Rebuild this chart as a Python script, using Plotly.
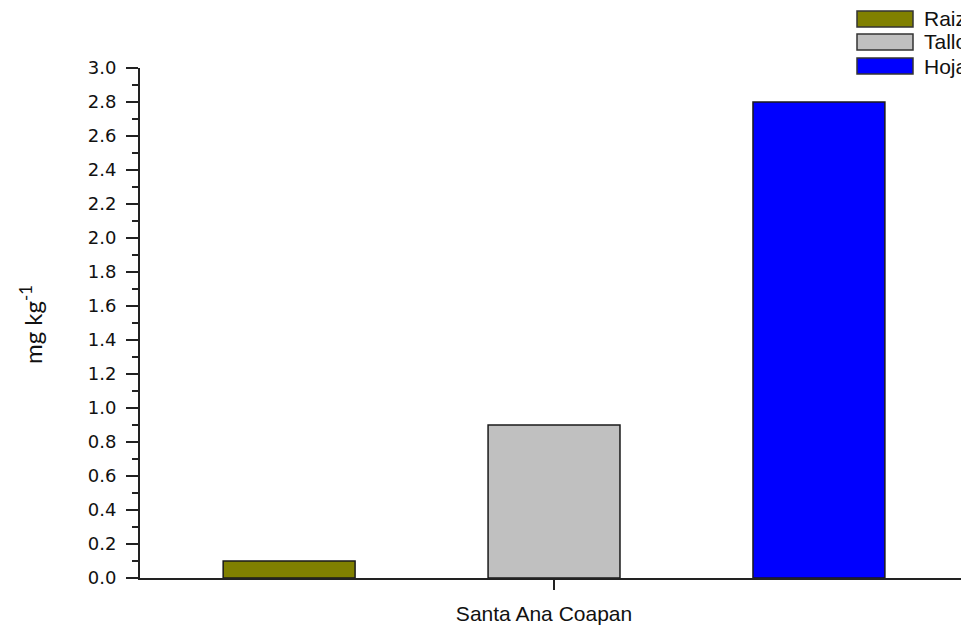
import plotly.graph_objects as go

site = ["Santa Ana Coapan"]
series_names = ["Raiz", "Tallo", "Hojas"]
series_values = [[0.1], [0.9], [2.8]]
series_colors = ["#808000", "#C0C0C0", "#0000FF"]
y_ticks = [0.0, 0.2, 0.4, 0.6, 0.8, 1.0, 1.2, 1.4, 1.6, 1.8, 2.0, 2.2, 2.4, 2.6, 2.8, 3.0]

W, H = 961, 627
L, T, B = 140, 68, 627 - 578
PW, PH = W - L, H - T - B

def px_x(x):  # window px -> paper x
    return (x - L) / PW

def px_y(y):  # window px -> paper y
    return (H - B - y) / PH

fig = go.Figure()
for name, vals, col in zip(series_names, series_values, series_colors):
    fig.add_trace(go.Bar(
        x=site, y=vals, name=name,
        marker=dict(color=col, line=dict(color="#1a1a1a", width=1.5)),
        showlegend=False,
    ))

# manual legend (clipped at the right edge like the reference)
legend_y = [19, 42, 66]
for name, col, yc in zip(series_names, series_colors, legend_y):
    fig.add_shape(type="rect", xref="paper", yref="paper",
                  x0=px_x(857), x1=px_x(913),
                  y0=px_y(yc + 8), y1=px_y(yc - 8),
                  fillcolor=col, line=dict(color="#333333", width=1.5))
    fig.add_annotation(text=name, xref="paper", yref="paper",
                       x=px_x(922), y=px_y(yc),
                       xanchor="left", yanchor="middle", showarrow=False,
                       font=dict(family="Liberation Sans, Arial", size=21, color="#111111"))

# y-axis title
fig.add_annotation(text="mg kg<sup>-1</sup>", xref="paper", yref="paper",
                   x=px_x(31), y=px_y(325), xanchor="center", yanchor="middle",
                   textangle=-90, showarrow=False,
                   font=dict(size=24, family="Lato, Open Sans", color="#111111"))

fig.update_layout(
    width=W, height=H,
    margin=dict(l=L, r=0, t=T, b=B),
    paper_bgcolor="white", plot_bgcolor="white",
    barmode="group", bargap=0.032, bargroupgap=0.502,
    showlegend=False,
    font=dict(family="Liberation Sans, Arial", color="#111111"),
)
fig.update_xaxes(
    range=[-0.5043, 0.4957], showline=True, linecolor="#222222", linewidth=2,
    ticks="outside", ticklen=10, tickwidth=2, tickcolor="#222222",
    ticklabelshift=-10, ticklabelstandoff=6,
    tickfont=dict(size=21, family="Liberation Sans, Arial", color="#111111"),
    showgrid=False, zeroline=False,
)
fig.update_yaxes(
    range=[0, 3.0], showline=True, linecolor="#222222", linewidth=2,
    tickvals=y_ticks, ticktext=[f"{v:.1f}" for v in y_ticks],
    ticks="outside", ticklen=12, tickwidth=2, tickcolor="#222222",
    ticklabelstandoff=6,
    minor=dict(ticks="outside", ticklen=6, tickwidth=1.5, tickcolor="#222222", dtick=0.1, showgrid=False),
    tickfont=dict(size=18, family="DejaVu Sans", color="#111111"),
    showgrid=False, zeroline=False,
)

fig.write_html(
    "out.html",
    config={"displayModeBar": False},
    post_script="document.body.style.margin='0';document.body.style.overflow='hidden';",
)
